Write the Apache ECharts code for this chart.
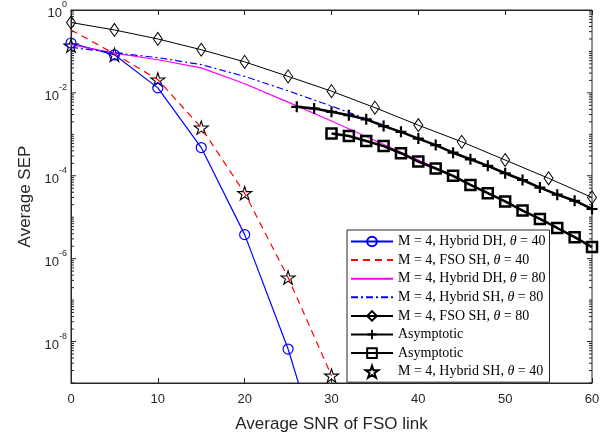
<!DOCTYPE html>
<html><head><meta charset="utf-8">
<script src="https://cdn.jsdelivr.net/npm/echarts@6/dist/echarts.min.js"></script>
<style>html,body{margin:0;padding:0;background:#fff}#c{width:613px;height:438px}</style>
</head><body><div id="c"></div>
<script>
// ---- data ----
const x40 = [0, 5, 10, 15, 20, 25, 30];
const hybridDH40 = [0.16, 0.083, 0.0132, 4.8e-4, 3.8e-6, 6.6e-9, 2.5e-12];
const fsoSH40 = [0.33, 0.088, 0.021, 1.45e-3, 3.8e-5, 3.5e-7, 1.5e-9];
const hybridSH40 = [0.138, 0.083, 0.021, 1.45e-3, 3.8e-5, 3.5e-7, 1.5e-9];
const x80 = [0, 5, 10, 15, 20, 25, 30, 35, 40, 45, 50, 55, 60];
const hybridDH80 = [0.145, 0.091, 0.063, 0.040, 0.0166, 6.0e-3, 2.1e-3, 7.1e-4, 2.4e-4, 7.8e-5, 2.4e-5, 7.1e-6, 1.9e-6];
const hybridSH80 = [0.126, 0.093, 0.071, 0.048, 0.025, 0.0112, 4.8e-3, 2.0e-3, 7.9e-4, 3.0e-4, 1.15e-4, 4.3e-5, 1.6e-5];
const fsoSH80 = [0.5, 0.33, 0.2, 0.11, 0.056, 0.025, 0.011, 4.4e-3, 1.66e-3, 6.6e-4, 2.4e-4, 8.7e-5, 3.0e-5];
const xAsym1 = [26, 28, 30, 32, 34, 36, 38, 40, 42, 44, 46, 48, 50, 52, 54, 56, 58, 60];
const asym1 = [4.6e-3, 4.2e-3, 3.5e-3, 2.9e-3, 2.3e-3, 1.58e-3, 1.15e-3, 7.9e-4, 5.5e-4, 3.6e-4, 2.5e-4, 1.74e-4, 1.15e-4, 7.9e-5, 5.2e-5, 3.5e-5, 2.5e-5, 1.58e-5];
const xAsym2 = [30, 32, 34, 36, 38, 40, 42, 44, 46, 48, 50, 52, 54, 56, 58, 60];
const asym2 = [1.05e-3, 9.1e-4, 6.9e-4, 5.2e-4, 3.5e-4, 2.2e-4, 1.5e-4, 1.0e-4, 6.0e-5, 3.8e-5, 2.4e-5, 1.45e-5, 9.1e-6, 5.5e-6, 3.3e-6, 1.9e-6];
const xTicks = [0, 10, 20, 30, 40, 50, 60];
const names = ['M = 4, Hybrid DH, θ = 40', 'M = 4, FSO SH, θ = 40', 'M = 4, Hybrid DH, θ = 80',
  'M = 4, Hybrid SH, θ = 80', 'M = 4, FSO SH, θ = 80', 'Asymptotic', 'Asymptotic ', 'M = 4, Hybrid SH, θ = 40'];

const pair = (xs, ys) => xs.map((x, i) => [x, ys[i]]);
const AX = '#262626';
const STAR = 'path://M0,-1L0.2245,-0.309L0.951,-0.309L0.363,0.118L0.588,0.809L0,0.382L-0.588,0.809L-0.363,0.118L-0.951,-0.309L-0.2245,-0.309Z';
const PLUS = 'path://M-1,-5H1V-1H5V1H1V5H-1V1H-5V-1H-1Z';
const T = 'rgba(255,255,255,0)';
const NOMARK = {color: T, borderWidth: 0, borderColor: T};

// y tick positions (log minor ticks, MATLAB-like)
const yTickVals = [];
for (let e = -9; e <= -1; e++) for (let k = 1; k <= 9; k++) yTickVals.push([k * Math.pow(10, e), (k === 1 && e % 2 === 0) ? 5 : 3]);

const chart = echarts.init(document.getElementById('c'), null, {renderer: 'canvas'});
chart.setOption({
  animation: false,
  backgroundColor: '#fff',
  grid: {left: 71, right: 21, top: 10, height: 375, show: true, borderColor: AX, borderWidth: 1, backgroundColor: 'transparent'},
  xAxis: [{
    type: 'value', min: 0, max: 60, interval: 10,
    name: 'Average SNR of FSO link', nameLocation: 'middle', nameGap: 33,
    nameTextStyle: {fontFamily: 'Liberation Sans', fontSize: 17, color: AX},
    axisLine: {lineStyle: {color: AX}}, axisTick: {inside: true, length: 5, lineStyle: {color: AX}},
    axisLabel: {margin: 10, fontFamily: 'Liberation Sans', fontSize: 13, color: AX, customValues: xTicks},
    splitLine: {show: false}
  }, {
    type: 'value', min: 0, max: 60, interval: 10, position: 'top',
    axisLine: {lineStyle: {color: AX}}, axisTick: {inside: true, length: 5, lineStyle: {color: AX}},
    axisLabel: {show: false}, splitLine: {show: false}
  }],
  yAxis: {
    type: 'log', min: 1e-9, max: 1, splitNumber: 9, logBase: 10,
    name: 'Average SEP', nameLocation: 'middle', nameGap: 37,
    nameTextStyle: {fontFamily: 'Liberation Sans', fontSize: 17, color: AX},
    axisLine: {lineStyle: {color: AX}}, axisTick: {show: false},
    splitLine: {show: false},
    axisLabel: {
      margin: 4, color: AX, fontFamily: 'Liberation Sans',
      formatter: v => { const e = Math.round(Math.log10(v)); if (e % 2 !== 0) return ''; return '{b|10}{s|' + e + '}'; },
      rich: {b: {fontSize: 13, lineHeight: 20, verticalAlign: 'bottom', color: AX, fontFamily: 'Liberation Sans'},
             s: {fontSize: 9, lineHeight: 12, verticalAlign: 'top', color: AX, fontFamily: 'Liberation Sans'}}
    }
  },
  legend: {
    orient: 'vertical', left: 347, top: 230, data: names,
    itemWidth: 42, itemHeight: 12, itemGap: 3.6,
    backgroundColor: '#fff', borderColor: AX, borderWidth: 1, borderRadius: 0,
    padding: [4, 4, 3, 3],
    formatter: n => n.replace('θ', '{i|θ}'),
    textStyle: {fontFamily: 'Liberation Serif', fontSize: 14, color: '#000', lineHeight: 15,
      rich: {i: {fontFamily: 'Liberation Serif', fontStyle: 'italic', fontSize: 14, color: '#000'}}}
  },
  series: [
    {name: names[0], type: 'line', data: pair(x40, hybridDH40), symbol: 'circle', symbolSize: 10, showAllSymbol: true,
     lineStyle: {color: '#0000ff', width: 1.2}, itemStyle: {color: T, borderColor: '#0000ff', borderWidth: 1.2}},
    {name: names[1], type: 'line', data: pair(x40, fsoSH40), symbol: 'none',
     lineStyle: {color: '#ff0000', width: 1.2, type: [7, 5]}, itemStyle: NOMARK},
    {name: names[2], type: 'line', data: pair(x80, hybridDH80), symbol: 'none',
     lineStyle: {color: '#ff00ff', width: 1.2}, itemStyle: NOMARK},
    {name: names[3], type: 'line', data: pair(x80, hybridSH80), symbol: 'none',
     lineStyle: {color: '#0000ff', width: 1.2, type: [7, 3, 2, 3]}, itemStyle: NOMARK},
    {name: names[4], type: 'line', data: pair(x80, fsoSH80), symbol: 'diamond', symbolSize: [9, 13], showAllSymbol: true,
     lineStyle: {color: '#000', width: 1}, itemStyle: {color: T, borderColor: '#000', borderWidth: 1}},
    {name: names[5], type: 'line', data: pair(xAsym1, asym1), symbol: PLUS, symbolSize: 11, symbolKeepAspect: true, showAllSymbol: true,
     lineStyle: {color: '#000', width: 2.5}, itemStyle: {color: '#000'}},
    {name: names[6], type: 'line', data: pair(xAsym2, asym2), symbol: 'rect', symbolSize: 10, showAllSymbol: true,
     lineStyle: {color: '#000', width: 2.5}, itemStyle: {color: T, borderColor: '#000', borderWidth: 2.5}},
    {name: names[7], type: 'scatter', data: pair(x40, hybridSH40), symbol: STAR, symbolSize: 14, symbolKeepAspect: true,
     itemStyle: {color: T, borderColor: '#000', borderWidth: 1.1, opacity: 1}},
    {type: 'custom', silent: true, z: 10, data: [[0]],
     renderItem: (params, api) => {
       const children = [];
       yTickVals.forEach(([v, len]) => {
         const pl = api.coord([0, v]), pr = api.coord([60, v]);
         children.push({type: 'line', shape: {x1: pl[0], y1: pl[1], x2: pl[0] + len, y2: pl[1]}, style: {stroke: AX, lineWidth: 1}});
         children.push({type: 'line', shape: {x1: pr[0], y1: pr[1], x2: pr[0] - len, y2: pr[1]}, style: {stroke: AX, lineWidth: 1}});
       });
       return {type: 'group', children};
     }}
  ]
});
</script></body></html>
